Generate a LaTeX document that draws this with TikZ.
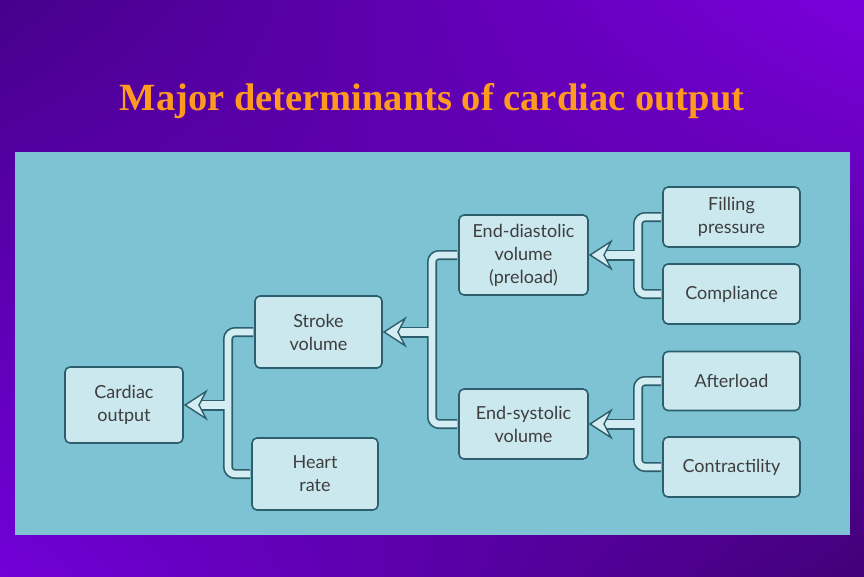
\documentclass[tikz,border=0pt]{standalone}
\usepackage{fontspec}
\setmainfont{Liberation Serif}
\newfontfamily\boxfont{Lato}
\usetikzlibrary{arrows.meta,shadings}
\definecolor{bgdark}{HTML}{46008A}
\definecolor{bgdarkb}{HTML}{420078}
\definecolor{bglight}{HTML}{7A00DC}
\definecolor{bglightb}{HTML}{7200D8}
\definecolor{panel}{HTML}{7DC3D3}
\definecolor{boxfill}{HTML}{CBE8EF}
\definecolor{boxline}{HTML}{2D5E6C}
\definecolor{pipefill}{HTML}{D4EDF3}
\definecolor{titleorange}{HTML}{FF9A20}
\definecolor{boxtext}{HTML}{3E3E3E}

\begin{document}
\begin{tikzpicture}[x=1pt,y=-1pt]
	\tikzset{box/.style = {shape=rectangle, draw=boxline, fill=boxfill,
			line width=1.6pt, rounded corners=5pt, align=center,
			text=boxtext, font=\boxfont\fontsize{18}{23}\selectfont}}
	\tikzset{pipeout/.style = {line width=10pt, draw=boxline, rounded corners=7pt,
			shorten <=1pt, shorten >=1pt}}
	\tikzset{pipein/.style = {line width=6.6pt, draw=pipefill, rounded corners=7pt,
			shorten <=1pt, shorten >=1pt}}
	\tikzset{arrout/.style = {line width=11pt, draw=boxline, shorten >=13pt}}
	\tikzset{arrin/.style = {line width=7.4pt, draw=pipefill,
			-{Stealth[length=24pt,width=31pt,inset=8pt,line width'=1.4pt,color=boxline,fill=pipefill]}}}
	% background
	\shade[upper left=bgdark, upper right=bglight, lower left=bglightb, lower right=bgdarkb]
		(0,0) rectangle (864,576);
	\useasboundingbox (0,0) rectangle (864,576);
	\node[anchor=base, text=titleorange, font=\bfseries\fontsize{38.5}{44}\selectfont]
		(title) at (432,110) {Major determinants of cardiac output};
	\fill[panel] (15,152) rectangle (850,535);
	% boxes
	\node[box, minimum width=118pt, minimum height=76pt] (co) at (124,405) {Cardiac\\output};
	\node[box, minimum width=127pt, minimum height=72pt] (sv) at (318.5,332) {Stroke\\volume};
	\node[box, minimum width=126pt, minimum height=72pt] (hr) at (315,474) {Heart\\rate};
	\node[box, minimum width=129pt, minimum height=80pt] (edv) at (523.5,255) {End-diastolic\\volume\\(preload)};
	\node[box, minimum width=129pt, minimum height=70pt] (esv) at (523.5,424) {End-systolic\\volume};
	\node[box, minimum width=137pt, minimum height=60pt] (fp) at (731.5,217) {Filling\\pressure};
	\node[box, minimum width=137pt, minimum height=60pt] (cp) at (731.5,294) {Compliance};
	\node[box, minimum width=137pt, minimum height=59pt] (al) at (731.5,381) {Afterload};
	\node[box, minimum width=137pt, minimum height=60pt] (ct) at (731.5,467) {Contractility};
	% bars
	\coordinate (barA) at (228,0);
	\coordinate (barB) at (432,0);
	\coordinate (barC) at (638,0);
	%connectors
	\draw[pipeout] (sv.west) -- (barA |- sv.west) -- (barA |- hr.west) -- (hr.west);
	\draw[arrout] (barA |- co.east) -- (co.east);
	\draw[pipein] (sv.west) -- (barA |- sv.west) -- (barA |- hr.west) -- (hr.west);
	\draw[arrin] (barA |- co.east) -- (co.east);
	\draw[pipeout] (edv.west) -- (barB |- edv.west) -- (barB |- esv.west) -- (esv.west);
	\draw[arrout] (barB |- sv.east) -- (sv.east);
	\draw[pipein] (edv.west) -- (barB |- edv.west) -- (barB |- esv.west) -- (esv.west);
	\draw[arrin] (barB |- sv.east) -- (sv.east);
	\draw[pipeout] (fp.west) -- (barC |- fp.west) -- (barC |- cp.west) -- (cp.west);
	\draw[arrout] (barC |- edv.east) -- (edv.east);
	\draw[pipein] (fp.west) -- (barC |- fp.west) -- (barC |- cp.west) -- (cp.west);
	\draw[arrin] (barC |- edv.east) -- (edv.east);
	\draw[pipeout] (al.west) -- (barC |- al.west) -- (barC |- ct.west) -- (ct.west);
	\draw[arrout] (barC |- esv.east) -- (esv.east);
	\draw[pipein] (al.west) -- (barC |- al.west) -- (barC |- ct.west) -- (ct.west);
	\draw[arrin] (barC |- esv.east) -- (esv.east);
\end{tikzpicture}
\end{document}
